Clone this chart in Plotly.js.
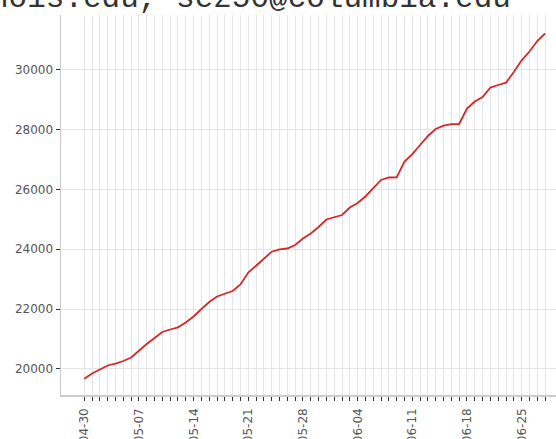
<!DOCTYPE html>
<html>
<head>
<meta charset="utf-8">
<script src="https://cdn.plot.ly/plotly-3.0.1.min.js"></script>
<style>html,body{margin:0;padding:0;background:#fff;overflow:hidden;}</style>
</head>
<body>
<div id="chart" style="width:556px;height:439px;"></div>
<script>
// Data
const startDate = '2020-04-30';
const values = [
  19676, 19850, 19983, 20117, 20177, 20267, 20384, 20618, 20835, 21036,
  21236, 21320, 21393, 21554, 21754, 22005, 22239, 22422, 22522, 22606,
  22823, 23224, 23451, 23675, 23919, 23996, 24026, 24143, 24357, 24527,
  24744, 24995, 25079, 25145, 25396, 25546, 25764, 26031, 26315, 26398,
  26405, 26933, 27177, 27484, 27785, 28019, 28129, 28179, 28186, 28704,
  28938, 29088, 29405, 29489, 29566, 29923, 30314, 30608, 30959, 31210
];
const yTickValues = [20000, 22000, 24000, 26000, 28000, 30000];
const yTickLabels = ['20000', '22000', '24000', '26000', '28000', '30000'];
const titleText = 'nois.edu, sez50@columbia.edu';
const labelEvery = 7;

function addDays(iso, n) {
  const d = new Date(iso + 'T00:00:00Z');
  d.setUTCDate(d.getUTCDate() + n);
  return d.toISOString().slice(0, 10);
}
const dates = values.map((_, i) => addDays(startDate, i));
const tickText = dates.map((d, i) => (i % labelEvery === 0 ? d : ''));

const trace = {
  x: dates,
  y: values,
  type: 'scatter',
  mode: 'lines',
  line: {color: '#d62728', width: 1.8},
  hoverinfo: 'x+y'
};

const layout = {
  width: 556,
  height: 439,
  margin: {l: 61, r: 0, t: 15, b: 44, pad: 0},
  paper_bgcolor: '#ffffff',
  plot_bgcolor: '#ffffff',
  showlegend: false,
  font: {family: 'DejaVu Sans, sans-serif', size: 12, color: '#555555'},
  xaxis: {
    type: 'date',
    range: ['2020-04-27 00:30', '2020-06-29 09:36'],
    tickmode: 'array',
    tickvals: dates,
    ticktext: tickText,
    tickangle: -90,
    ticks: 'outside',
    ticklen: 4,
    tickwidth: 1,
    tickcolor: '#333333',
    ticklabelstandoff: 3,
    showgrid: true,
    gridcolor: '#e5e5e5',
    gridwidth: 1,
    showline: true,
    linecolor: '#cccccc',
    linewidth: 1.5,
    zeroline: false,
    automargin: false,
    tickfont: {family: 'DejaVu Sans, sans-serif', size: 12, color: '#555555'}
  },
  yaxis: {
    range: [19131, 31828],
    tickmode: 'array',
    tickvals: yTickValues,
    ticktext: yTickLabels,
    ticks: 'outside',
    ticklen: 4,
    tickwidth: 1,
    tickcolor: '#333333',
    showgrid: true,
    gridcolor: '#e5e5e5',
    gridwidth: 1,
    showline: true,
    linecolor: '#cccccc',
    linewidth: 1.5,
    zeroline: false,
    automargin: false,
    tickfont: {family: 'DejaVu Sans, sans-serif', size: 12, color: '#555555'}
  },
  annotations: [{
    text: titleText,
    xref: 'paper', yref: 'paper',
    x: 0.913, y: 1,
    xanchor: 'right', yanchor: 'bottom',
    yshift: -3,
    showarrow: false,
    font: {family: 'Courier New, Liberation Mono, monospace', size: 31, color: '#333333'}
  }]
};

Plotly.newPlot('chart', [trace], layout, {displayModeBar: false, staticPlot: true});
</script>
</body>
</html>
